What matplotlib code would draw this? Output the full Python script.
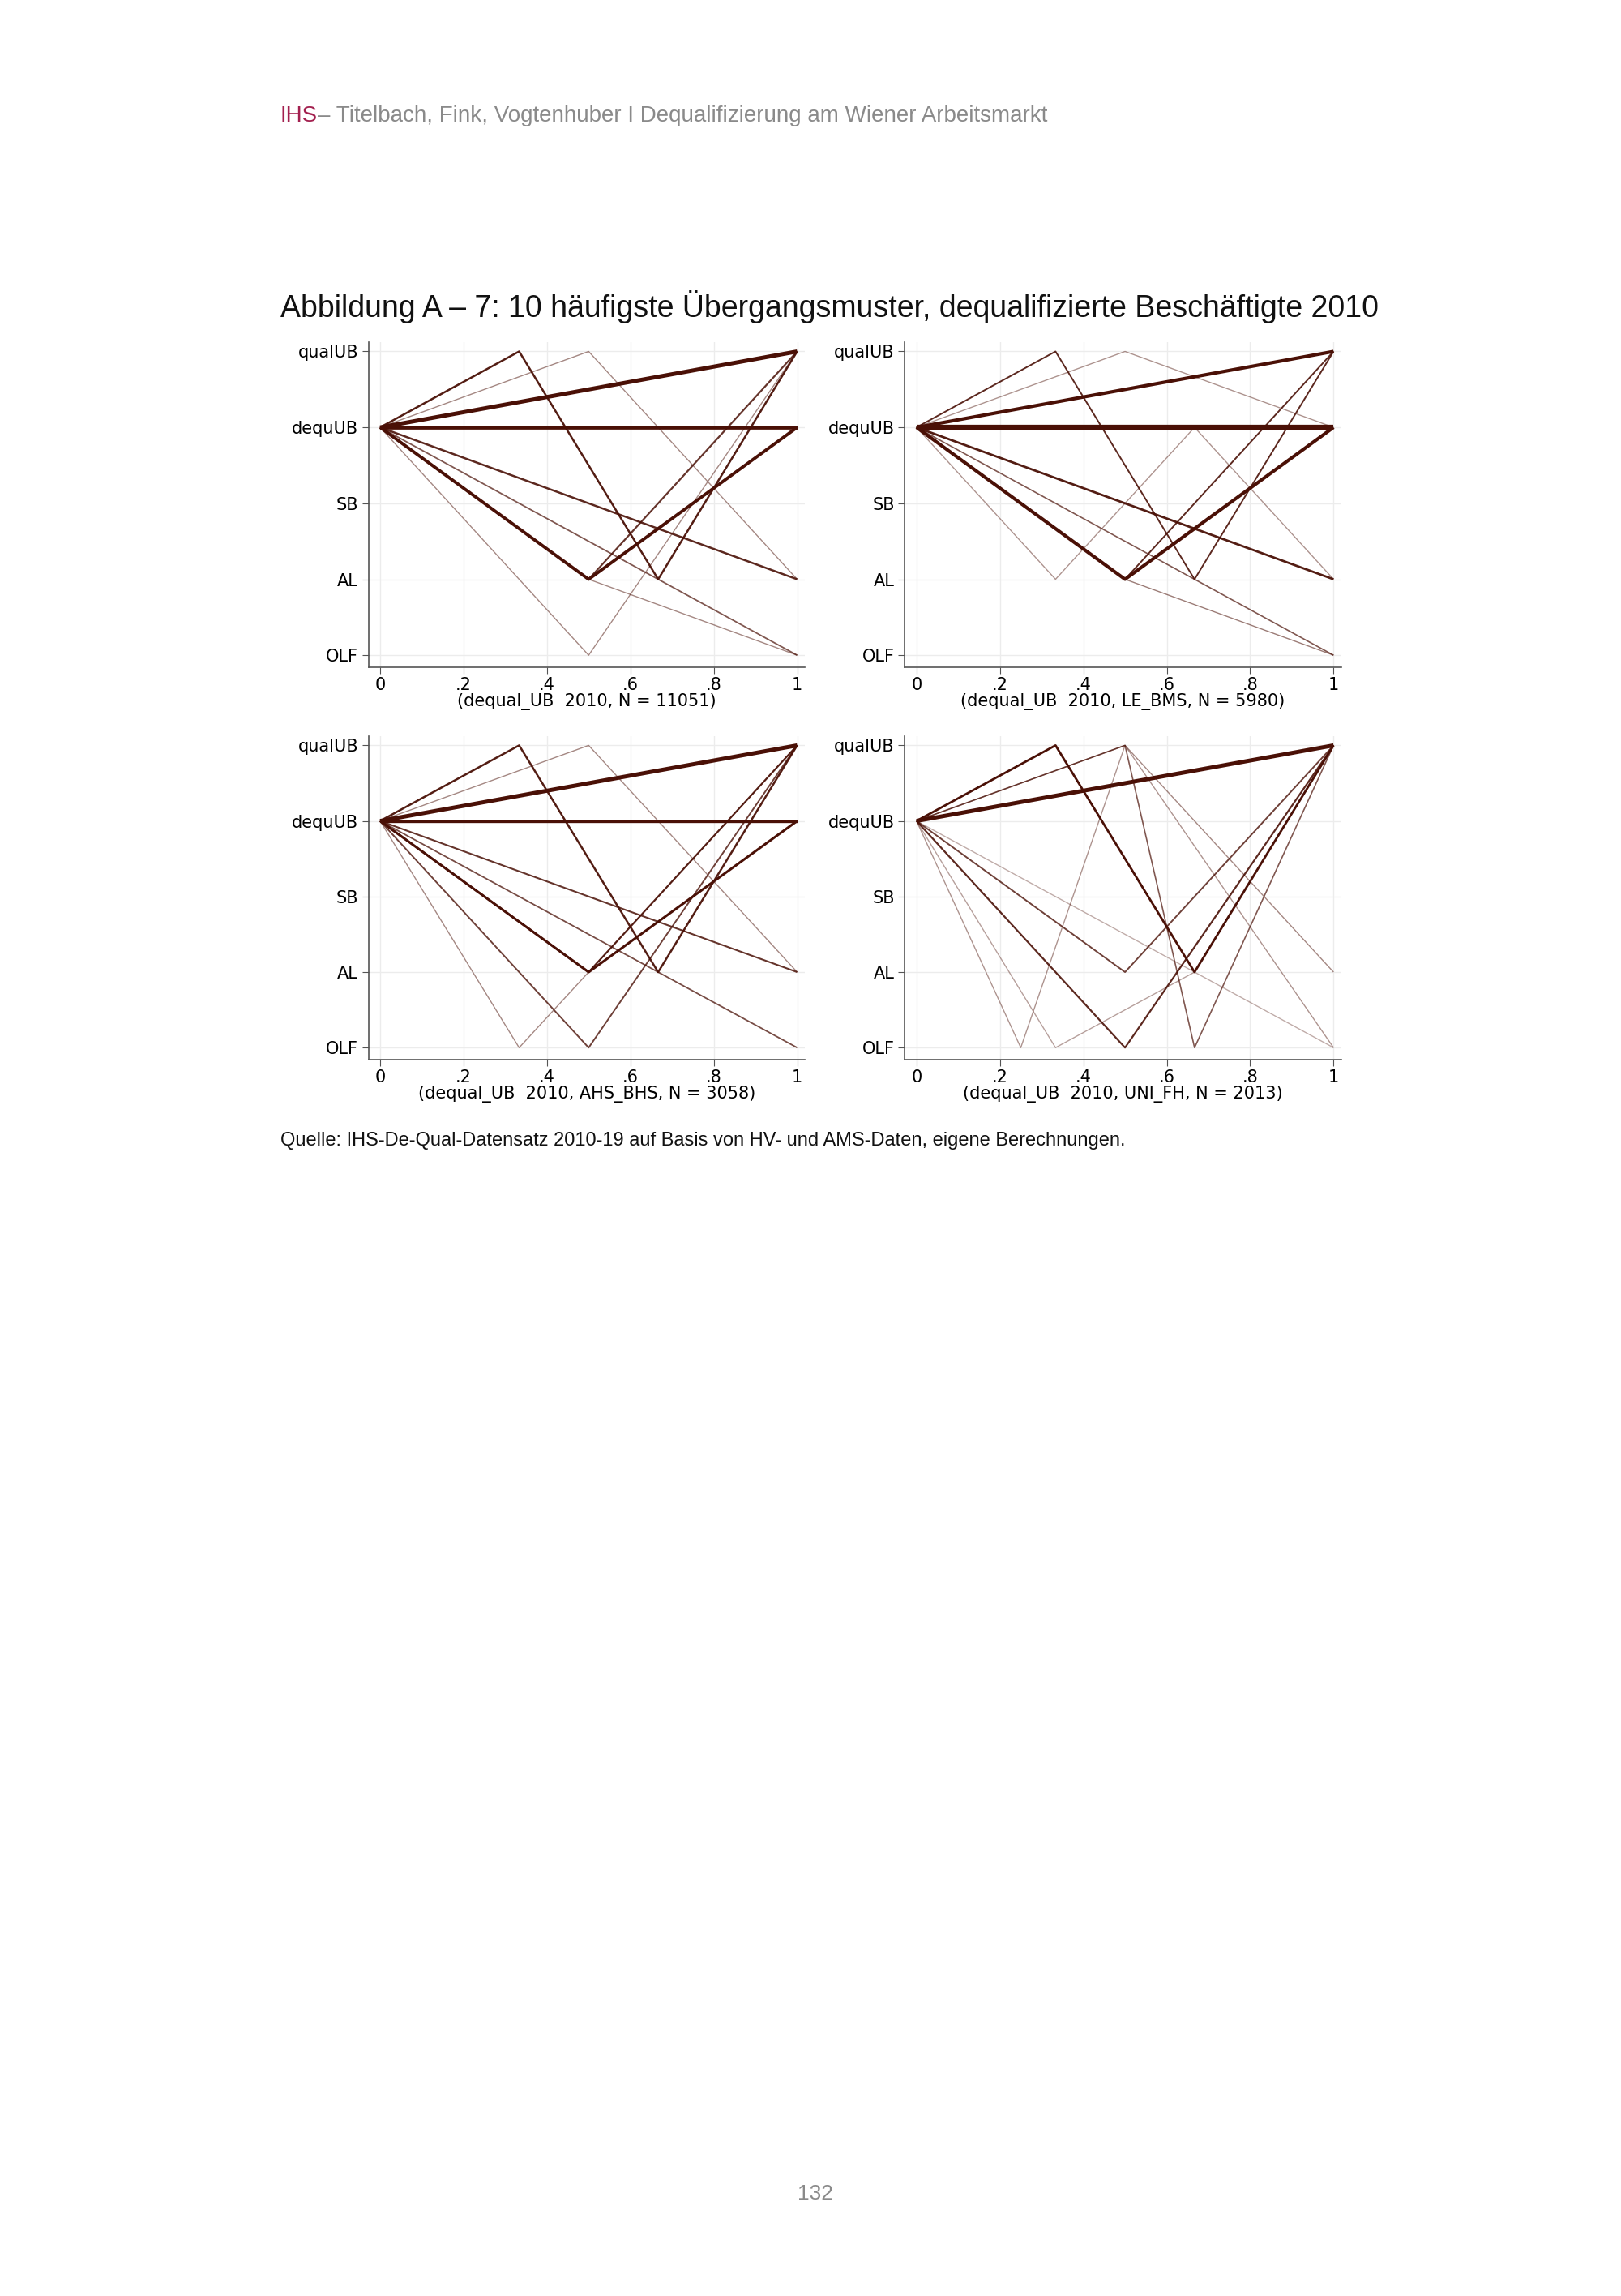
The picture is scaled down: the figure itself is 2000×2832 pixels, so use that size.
import matplotlib
matplotlib.use("Agg")
import matplotlib.pyplot as plt

# states: OLF=1, AL=2, SB=3, dequUB=4, qualUB=5
state_labels = ["OLF", "AL", "SB", "dequUB", "qualUB"]
x_ticks = [0, 0.2, 0.4, 0.6, 0.8, 1]
x_ticklabels = ["0", ".2", ".4", ".6", ".8", "1"]

# each pattern: (x points, y states, line weight, alpha)
p1_xlabel = "(dequal_UB  2010, N = 11051)"
p1_paths = [
    ([0, 1], [4, 5], 3.6, 1.0),
    ([0, 1], [4, 4], 3.4, 1.0),
    ([0, 0.5, 1], [4, 2, 4], 2.8, 1.0),
    ([0, 1/3, 2/3, 1], [4, 5, 2, 5], 1.8, 0.95),
    ([0, 1], [4, 2], 1.8, 0.9),
    ([0, 0.5, 1], [4, 2, 5], 1.6, 0.85),
    ([0, 1], [4, 1], 1.3, 0.7),
    ([0, 0.5, 1], [4, 5, 2], 1.0, 0.5),
    ([0, 0.5, 1], [4, 1, 5], 1.0, 0.5),
    ([0, 0.5, 1], [4, 2, 1], 1.0, 0.5),
]
p2_xlabel = "(dequal_UB  2010, LE_BMS, N = 5980)"
p2_paths = [
    ([0, 1], [4, 4], 4.5, 1.0),
    ([0, 1], [4, 5], 3.0, 1.0),
    ([0, 0.5, 1], [4, 2, 4], 3.0, 1.0),
    ([0, 1], [4, 2], 2.0, 0.95),
    ([0, 1/3, 2/3, 1], [4, 5, 2, 5], 1.4, 0.9),
    ([0, 0.5, 1], [4, 2, 5], 1.4, 0.9),
    ([0, 1], [4, 1], 1.2, 0.7),
    ([0, 0.5, 1], [4, 5, 4], 1.0, 0.45),
    ([0, 1/3, 2/3, 1], [4, 2, 4, 2], 1.0, 0.45),
    ([0, 0.5, 1], [4, 2, 1], 1.0, 0.55),
]
p3_xlabel = "(dequal_UB  2010, AHS_BHS, N = 3058)"
p3_paths = [
    ([0, 1], [4, 5], 3.6, 1.0),
    ([0, 1], [4, 4], 2.4, 1.0),
    ([0, 0.5, 1], [4, 2, 4], 2.2, 1.0),
    ([0, 1/3, 2/3, 1], [4, 5, 2, 5], 1.8, 0.95),
    ([0, 0.5, 1], [4, 2, 5], 1.6, 0.9),
    ([0, 1], [4, 2], 1.5, 0.85),
    ([0, 0.5, 1], [4, 1, 5], 1.4, 0.8),
    ([0, 1], [4, 1], 1.3, 0.75),
    ([0, 0.5, 1], [4, 5, 2], 1.0, 0.5),
    ([0, 1/3, 1], [4, 1, 5], 1.0, 0.5),
]
p4_xlabel = "(dequal_UB  2010, UNI_FH, N = 2013)"
p4_paths = [
    ([0, 1], [4, 5], 3.6, 1.0),
    ([0, 1/3, 2/3, 1], [4, 5, 2, 5], 2.0, 1.0),
    ([0, 0.5, 1], [4, 1, 5], 1.6, 0.9),
    ([0, 0.5, 1], [4, 2, 5], 1.4, 0.8),
    ([0, 0.5, 2/3, 1], [4, 5, 1, 5], 1.2, 0.7),
    ([0, 0.5, 1], [4, 5, 2], 1.0, 0.5),
    ([0, 0.25, 0.5, 1], [4, 1, 5, 1], 1.0, 0.45),
    ([0, 1/3, 2/3, 1], [4, 1, 2, 5], 1.0, 0.4),
    ([0, 1], [4, 1], 1.0, 0.35),
]

panels = [
    (p1_paths, p1_xlabel, [0.2273, 0.7095, 0.2691, 0.1414]),
    (p2_paths, p2_xlabel, [0.5582, 0.7095, 0.2691, 0.1414]),
    (p3_paths, p3_xlabel, [0.2273, 0.5386, 0.2691, 0.1407]),
    (p4_paths, p4_xlabel, [0.5582, 0.5386, 0.2691, 0.1407]),
]

line_color = "#4a1006"
font_list = ["Liberation Sans Narrow", "Liberation Sans", "DejaVu Sans"]

fig = plt.figure(figsize=(20, 28.32), dpi=100)

fig.text(0.173, 0.947, "IHS", color="#a3204f", fontsize=20, family=font_list)
fig.text(0.196, 0.947, "– Titelbach, Fink, Vogtenhuber I Dequalifizierung am Wiener Arbeitsmarkt",
         color="#8a8a8a", fontsize=20, family=font_list)
fig.text(0.173, 0.862, "Abbildung A – 7: 10 häufigste Übergangsmuster, dequalifizierte Beschäftigte 2010",
         color="#111111", fontsize=27, family=font_list)

for paths, xlabel, pos in panels:
    ax = fig.add_axes(pos)
    # draw thin ones first so thick dominate
    for xs, ys, lw, a in sorted(paths, key=lambda p: p[2]):
        ax.plot(xs, ys, color=line_color, lw=lw, alpha=a, solid_capstyle="butt")
    ax.set_xlim(-0.028, 1.018)
    ax.set_ylim(0.845, 5.12)
    ax.set_xticks(x_ticks)
    ax.set_xticklabels(x_ticklabels)
    ax.set_yticks([1, 2, 3, 4, 5])
    ax.set_yticklabels(state_labels)
    ax.grid(True, color="#ececec", lw=1)
    ax.set_axisbelow(True)
    for s in ["top", "right"]:
        ax.spines[s].set_visible(False)
    for s in ["left", "bottom"]:
        ax.spines[s].set_color("#555555")
        ax.spines[s].set_linewidth(1.2)
    ax.tick_params(labelsize=15, color="#555555", length=6, pad=3)
    ax.set_xlabel(xlabel, fontsize=15, labelpad=0)

fig.text(0.173, 0.501, "Quelle: IHS-De-Qual-Datensatz 2010-19 auf Basis von HV- und AMS-Daten, eigene Berechnungen.",
         color="#111111", fontsize=17, family=font_list)
fig.text(0.503, 0.042, "132", color="#8a8a8a", fontsize=19, ha="center", family=font_list)

fig.savefig("out.png", dpi=100, facecolor="white")
